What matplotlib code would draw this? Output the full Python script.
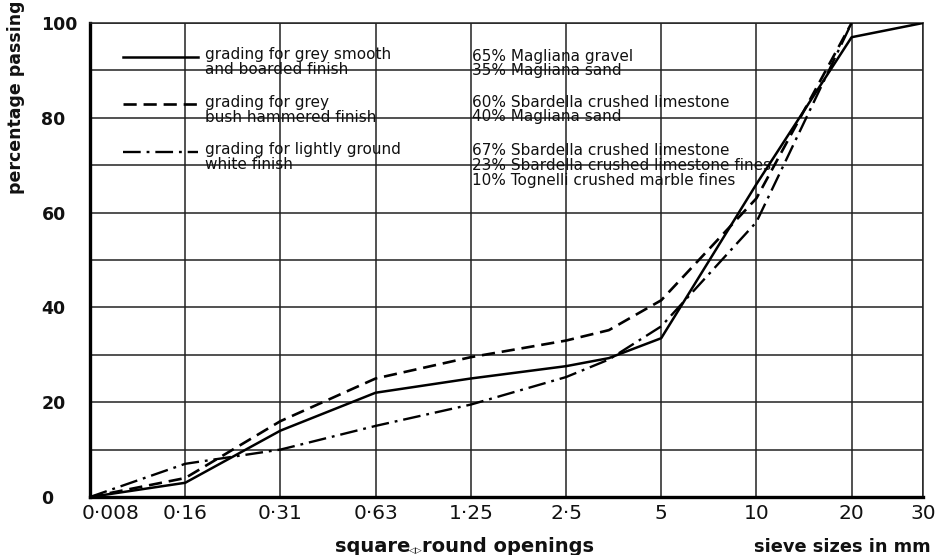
import matplotlib
matplotlib.use("Agg")
import matplotlib.pyplot as plt
from matplotlib.lines import Line2D
import matplotlib.transforms as mtransforms

# ---- data -------------------------------------------------------------
sieve_labels = ['0·008', '0·16', '0·31', '0·63', '1·25', '2·5', '5', '10', '20', '30']
sieve_pos = [0, 1, 2, 3, 4, 5, 6, 7, 8, 8.75]          # position of each sieve on the x scale
y_ticks = [0, 20, 40, 60, 80, 100]

# grading curves (x on the sieve scale, y = percentage passing)
smooth_x = [0, 1, 2, 3, 4, 5, 5.45, 6, 7, 8, 8.75]
smooth_y = [0, 3, 14, 22, 25, 27.6, 29.3, 33.5, 66, 97, 100]

bush_x = [0, 1, 2, 3, 4, 5, 5.45, 6, 7, 8]
bush_y = [0, 4, 16, 25, 29.5, 33, 35.2, 41.5, 63, 100]

white_x = [0, 1, 2, 3, 4, 5, 5.45, 6, 7, 8]
white_y = [0, 7, 10, 15, 19.5, 25.3, 29, 36, 58, 100]

legend_labels = [['grading for grey smooth', 'and boarded finish'],
                 ['grading for grey', 'bush hammered finish'],
                 ['grading for lightly ground', 'white finish']]
mixes = [['65% Magliana gravel', '35% Magliana sand'],
         ['60% Sbardella crushed limestone', '40% Magliana sand'],
         ['67% Sbardella crushed limestone', '23% Sbardella crushed limestone fines',
          '10% Tognelli crushed marble fines']]

# ---- figure -----------------------------------------------------------
plt.rcParams['font.family'] = ['DejaVu Sans']
fig = plt.figure(figsize=(9.35, 5.55), dpi=100)
ax = fig.add_axes([90/935, 1-497/555, 833/935, 474/555])

ax.set_xlim(0, 8.75)
ax.set_ylim(0, 100)

# grid
for p in sieve_pos:
    ax.axvline(p, color='#222222', lw=1.1, zorder=1)
for v in range(10, 101, 10):
    ax.axhline(v, color='#222222', lw=1.1, zorder=1)

styles = [dict(ls='-', lw=1.8),
          dict(ls=(0, (5, 2.6)), lw=1.9),
          dict(ls=(0, (7.5, 2.5, 1.2, 2.5)), lw=1.7)]

ax.plot(smooth_x, smooth_y, color='black', zorder=3, **styles[0])
ax.plot(bush_x, bush_y, color='black', zorder=3, **styles[1])
ax.plot(white_x, white_y, color='black', zorder=3, **styles[2])

# spines
for s in ['top', 'right']:
    ax.spines[s].set_linewidth(1.1)
    ax.spines[s].set_color('#222222')
for s in ['left', 'bottom']:
    ax.spines[s].set_linewidth(2.4)
    ax.spines[s].set_color('black')

# ticks
ax.set_xticks(sieve_pos)
ax.set_xticklabels(sieve_labels, fontsize=14.5, color='#111111')
ax.set_yticks(y_ticks)
ax.set_yticklabels([str(t) for t in y_ticks], fontsize=12.5, fontweight='bold',
                   ha='left', color='#111111')
ax.tick_params(axis='both', length=0)
ax.tick_params(axis='y', pad=35)
ax.tick_params(axis='x', pad=5)
xl = ax.get_xticklabels()
xl[0].set_transform(xl[0].get_transform() +
                    mtransforms.ScaledTranslation(21/100, 0, fig.dpi_scale_trans))

# axis titles
fig.text(16/935, 1-97/555, 'percentage passing', rotation=90, ha='center', va='center',
         fontsize=12.5, fontweight='bold', color='#111111')
fig.text(410/935, 1-547/555, 'square', ha='right', va='center', fontsize=14,
         fontweight='bold', color='#111111')
fig.text(416/935, 1-550/555, '◁▷', ha='center', va='center', fontsize=6.5,
         color='#111111')
fig.text(422/935, 1-547/555, 'round openings', ha='left', va='center', fontsize=14,
         fontweight='bold', color='#111111')
fig.text(754/935, 1-547/555, 'sieve sizes in mm', ha='left', va='center', fontsize=12.8,
         fontweight='bold', color='#111111')

# legend (drawn as keys + text blocks)
key_y = [0.928, 0.829, 0.728]
txt_rows = [[0.9325, 0.902], [0.833, 0.800], [0.734, 0.701]]
mix_rows = [[0.930, 0.899], [0.833, 0.802], [0.732, 0.700, 0.667]]
for i in range(3):
    ax.add_line(Line2D([0.040, 0.130], [key_y[i], key_y[i]], transform=ax.transAxes,
                       color='black', zorder=4, **styles[i]))
    for t, yy in zip(legend_labels[i], txt_rows[i]):
        ax.text(0.138, yy, t, transform=ax.transAxes, ha='left', va='center',
                fontsize=11, color='#111111', zorder=2)
    for t, yy in zip(mixes[i], mix_rows[i]):
        ax.text(0.4586, yy, t, transform=ax.transAxes, ha='left', va='center',
                fontsize=11, color='#111111', zorder=2)

fig.savefig('out.png', dpi=100)
